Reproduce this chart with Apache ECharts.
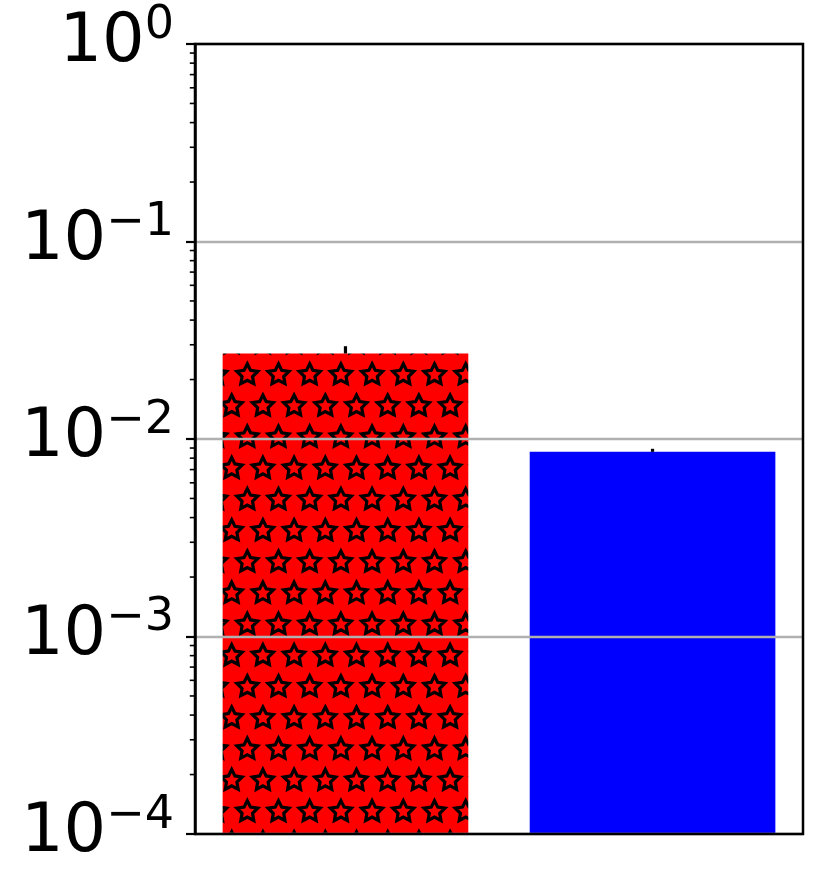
<!DOCTYPE html>
<html><head><meta charset="utf-8">
<script src="https://cdn.jsdelivr.net/npm/echarts@6/dist/echarts.min.js"></script>
<style>html,body{margin:0;padding:0;background:#fff}#c{width:831px;height:893px}</style>
</head><body><div id="c"></div>
<script>
const categories = ['A', 'B'];
const barValues = [0.0271, 0.00861];
const errUp = [0.0024, 0.00031];
const barColors = ['#ff0000', '#0000ff'];
const yTickExponents = [-4, -3, -2, -1, 0];
const minorMultipliers = [2, 3, 4, 5, 6, 7, 8, 9];
const yMin = Math.pow(10, yTickExponents[0]);
const yMax = Math.pow(10, yTickExponents[yTickExponents.length - 1]);

function makeStarTile() {
  const size = 312, step = 31.2, R = 11, r = R * 0.5;
  const c = document.createElement('canvas'); c.width = size; c.height = size;
  const ctx = c.getContext('2d');
  ctx.fillStyle = '#ff0000'; ctx.fillRect(0, 0, size, size);
  ctx.strokeStyle = '#000'; ctx.lineWidth = 3.2; ctx.lineJoin = 'miter';
  const y0 = 0.4, xOdd = 13.3, xEven = 28.9;
  for (let k = -1; k <= 11; k++) {
    const cy = y0 + k * step;
    const xs = (((k % 2) + 2) % 2 === 1) ? xOdd : xEven;
    for (let j = -1; j <= 11; j++) {
      const cx = xs + j * step;
      ctx.beginPath();
      for (let i = 0; i < 10; i++) {
        const rad = i % 2 === 0 ? R : r;
        const a = -Math.PI / 2 + i * Math.PI / 5;
        const px = cx + rad * Math.cos(a), py = cy + rad * Math.sin(a);
        if (i === 0) ctx.moveTo(px, py); else ctx.lineTo(px, py);
      }
      ctx.closePath(); ctx.stroke();
    }
  }
  return c;
}
const fills = [{ image: makeStarTile(), repeat: 'repeat' }, barColors[1]];

const minorData = [];
yTickExponents.slice(0, -1).forEach(e => minorMultipliers.forEach(m => minorData.push([0, m * Math.pow(10, e)])));

const chart = echarts.init(document.getElementById('c'), null, { renderer: 'canvas' });
chart.setOption({
  animation: false,
  backgroundColor: '#fff',
  grid: { left: 195, right: 28, top: 44, bottom: 59, show: true, borderColor: '#000', borderWidth: 2.5, backgroundColor: 'transparent', z: 10 },
  xAxis: { type: 'value', min: -0.49, max: 1.49, axisLine: { show: false }, axisTick: { show: false }, axisLabel: { show: false }, splitLine: { show: false } },
  yAxis: {
    type: 'log', logBase: 10, min: yMin, max: yMax, z: 5,
    axisLine: { show: true, onZero: false, lineStyle: { color: '#000', width: 2.5 } },
    axisTick: { show: true, length: 9, lineStyle: { color: '#000', width: 2.2 } },
    splitLine: { show: true, lineStyle: { color: '#b0b0b0', width: 2.4 } },
    axisLabel: {
      show: true, margin: 21, showMinLabel: true, showMaxLabel: true, hideOverlap: false,
      formatter: function (v) {
        const e = Math.round(Math.log10(v));
        return '{b|10}{s|' + (e < 0 ? '\u2212' + (-e) : String(e)) + '}';
      },
      rich: {
        b: { fontSize: 67, fontFamily: 'DejaVu Sans', color: '#000', lineHeight: 68 },
        s: { fontSize: 46, fontFamily: 'DejaVu Sans', color: '#000', lineHeight: 46, padding: [0, 0, 36, 0] }
      }
    }
  },
  series: [
    {
      type: 'custom', name: 'bars', coordinateSystem: 'cartesian2d', z: 2, clip: false,
      data: barValues.map((v, i) => [i, v]),
      renderItem: function (params, api) {
        const i = api.value(0), v = api.value(1);
        const top = api.coord([i, v]);
        const base = api.coord([i, yMin]);
        const xl = api.coord([i - 0.4, v])[0], xr = api.coord([i + 0.4, v])[0];
        return { type: 'rect', shape: { x: xl, y: top[1], width: xr - xl, height: base[1] - top[1] }, style: { fill: fills[params.dataIndex] } };
      }
    },
    {
      type: 'custom', name: 'err', coordinateSystem: 'cartesian2d', z: 3, clip: false,
      data: barValues.map((v, i) => [i, v, errUp[i]]),
      renderItem: function (params, api) {
        const i = api.value(0), v = api.value(1), e = api.value(2);
        const p0 = api.coord([i, v]), p1 = api.coord([i, v + e]);
        return { type: 'line', shape: { x1: p0[0], y1: p0[1], x2: p1[0], y2: p1[1] }, style: { stroke: '#000', lineWidth: 3.2 } };
      }
    },
    {
      type: 'custom', name: 'minor', coordinateSystem: 'cartesian2d', z: 10, clip: false, silent: true,
      data: minorData,
      renderItem: function (params, api) {
        const y = api.coord([0, api.value(1)])[1];
        const x = params.coordSys.x;
        return { type: 'line', shape: { x1: x - 5.2, y1: y, x2: x, y2: y }, style: { stroke: '#000', lineWidth: 1.6 } };
      }
    }
  ]
});
</script></body></html>
